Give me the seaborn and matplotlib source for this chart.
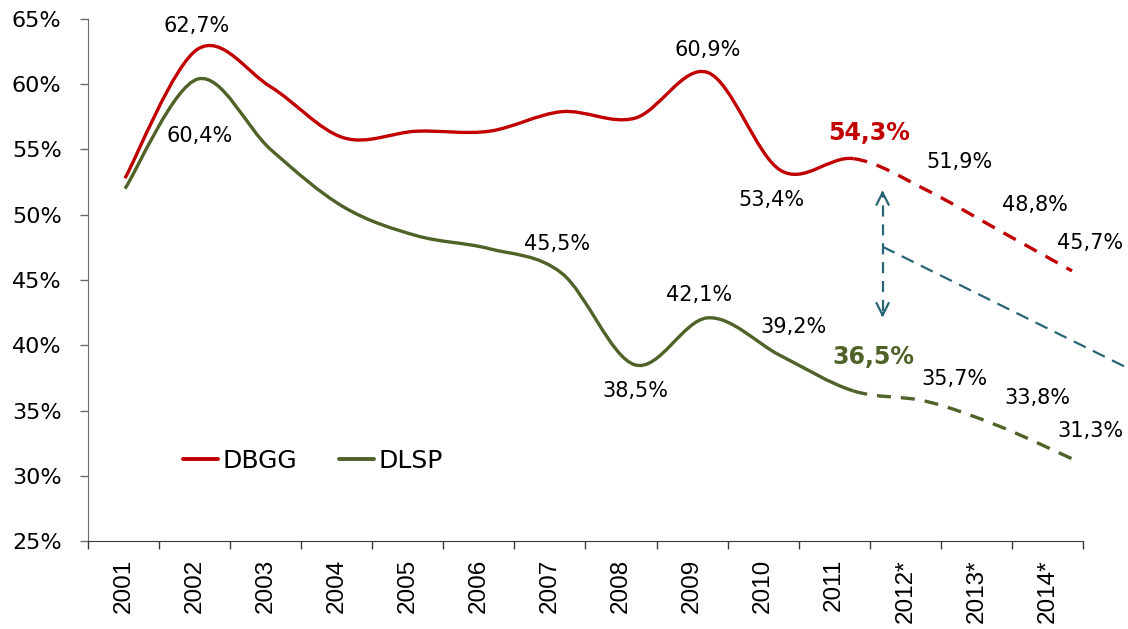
import matplotlib
matplotlib.use("Agg")
import matplotlib.pyplot as plt
from matplotlib.path import Path
from matplotlib.patches import PathPatch
from matplotlib.lines import Line2D
import numpy as np
import seaborn as sns

# datos
years = ['2001', '2002', '2003', '2004', '2005', '2006', '2007',
         '2008', '2009', '2010', '2011', '2012*', '2013*', '2014*']
dbgg = [52.8, 62.7, 59.8, 55.9, 56.4, 56.4, 57.9, 57.4, 60.9, 53.4, 54.3, 51.9, 48.8, 45.7]
dlsp = [52.0, 60.4, 55.0, 50.6, 48.4, 47.4, 45.5, 38.5, 42.1, 39.2, 36.5, 35.7, 33.8, 31.3]
last_real = 10  # 2011, luego previsiones

# etiquetas: indice -> (dx, dy, negrita)
dbgg_labels = {1: (-0.01, 1.76, False), 8: (0.0, 1.7, False), 9: (-0.13, -2.27, False),
               10: (0.21, 1.96, True), 11: (0.46, 2.14, False), 12: (0.49, 1.95, False),
               13: (0.25, 2.14, False)}
dlsp_labels = {1: (0.03, -4.37, False), 6: (-0.07, 2.26, False), 7: (0.0, -2.0, False),
               8: (-0.12, 1.75, False), 9: (0.18, 2.2, False), 10: (0.28, 2.6, True),
               11: (0.39, 1.71, False), 12: (0.52, 2.16, False), 13: (0.26, 2.13, False)}

RED = '#C00000'
GREEN = '#4F6228'
BLUE = '#2A6576'


def curva(ys, desde, hasta):
    # curva suavizada tipo excel (catmull-rom) entre los puntos desde..hasta
    pts = np.column_stack([np.arange(len(ys)), ys]).astype(float)
    n = len(pts)
    verts = [pts[desde]]
    codes = [Path.MOVETO]
    for i in range(desde, hasta):
        p0 = pts[max(i - 1, 0)]
        p1 = pts[i]
        p2 = pts[i + 1]
        p3 = pts[min(i + 2, n - 1)]
        verts += [p1 + (p2 - p0) / 6, p2 - (p3 - p1) / 6, p2]
        codes += [Path.CURVE4] * 3
    return Path(verts, codes)


sns.set_style("white")
plt.rcParams['font.family'] = ['DejaVu Sans']
plt.rcParams['text.color'] = 'black'
plt.rcParams['xtick.color'] = 'black'
plt.rcParams['ytick.color'] = 'black'

fig = plt.figure(figsize=(11.28, 6.29), dpi=100)
ax = fig.add_axes([0.078, 0.1399, 0.8821, 0.8299])

# eje de categorias
ax.set_xlim(-0.5, 13.5)
ax.set_ylim(25, 65)
ax.set_xticks(np.arange(-0.5, 14, 1))
ax.set_xticklabels([])
ax.set_xticks(np.arange(14), minor=True)
ax.set_xticklabels(years, minor=True, rotation=90, fontsize=17.5, va='top',
                   family=['Liberation Sans', 'DejaVu Sans'])
ax.tick_params(axis='x', which='major', direction='out', length=6, width=1, color='#3a3a3a', bottom=True)
ax.tick_params(axis='x', which='minor', length=0, pad=13)
ax.set_yticks(np.arange(25, 66, 5))
ax.set_yticklabels([f'{v}%' for v in range(25, 66, 5)], fontsize=16)
ax.tick_params(axis='y', direction='out', length=6, width=1, color='#6b6b6b', pad=13, left=True)
sns.despine(ax=ax)
ax.spines['left'].set_color('#6b6b6b')
ax.spines['bottom'].set_color('#3a3a3a')

# eje para las series
ax2 = ax.twiny()
ax2.set_xlim(-0.508, 13.151)
ax2.set_xticks([])
for s in ax2.spines.values():
    s.set_visible(False)

for serie, color in [(dbgg, RED), (dlsp, GREEN)]:
    ax2.add_patch(PathPatch(curva(serie, 0, last_real), fill=False, edgecolor=color,
                            lw=2.4, capstyle='butt'))
    ax2.add_patch(PathPatch(curva(serie, last_real, len(serie) - 1), fill=False, edgecolor=color,
                            lw=2.4, linestyle=(0, (4.2, 3)), capstyle='butt'))

for serie, labels, color in [(dbgg, dbgg_labels, RED), (dlsp, dlsp_labels, GREEN)]:
    for i, (dx, dy, bold) in labels.items():
        txt = f'{serie[i]:.1f}%'.replace('.', ',')
        ax2.text(i + dx, serie[i] + dy, txt, ha='center', va='center',
                 fontsize=17 if bold else 15,
                 fontweight='bold' if bold else 'normal',
                 color=color if bold else 'black')

# flecha y linea de diferencia
arrow_x = 10.40
ax2.plot([arrow_x, arrow_x], [42.6, 51.4], color=BLUE, lw=1.6, linestyle=(0, (5, 3.5)))
ax2.annotate('', xy=(arrow_x, 52.1), xytext=(arrow_x, 51.3),
             arrowprops=dict(arrowstyle='->', color=BLUE, lw=1.6, mutation_scale=22))
ax2.annotate('', xy=(arrow_x, 41.9), xytext=(arrow_x, 42.7),
             arrowprops=dict(arrowstyle='->', color=BLUE, lw=1.6, mutation_scale=22))
ax2.plot([arrow_x, 14.0], [47.55, 37.6], color=BLUE, lw=1.6,
         linestyle=(0, (6, 3.6)), clip_on=False)

handles = [Line2D([], [], color=RED, lw=2.8), Line2D([], [], color=GREEN, lw=2.8)]
ax2.legend(handles, ['DBGG', 'DLSP'], loc='center left', bbox_to_anchor=(0.0955, 0.153),
           ncol=2, frameon=False, fontsize=18, handlelength=1.4, handletextpad=0.16,
           columnspacing=1.7, borderpad=0, borderaxespad=0)

fig.savefig('out.png', dpi=100)
